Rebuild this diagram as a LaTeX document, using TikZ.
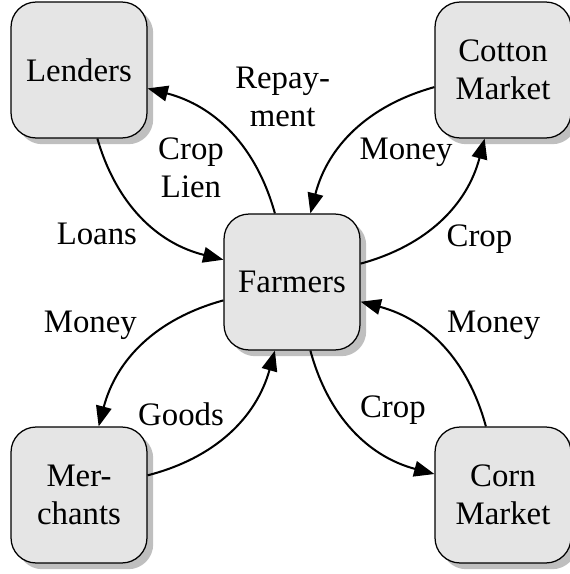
\documentclass[tikz,border=0pt]{standalone}
\usepackage{fontspec}
\setmainfont{Liberation Serif}
\usetikzlibrary{arrows.meta, shadows}

\begin{document}
\begin{tikzpicture}[x=0.32pt, y=-0.32pt, font=\fontsize{10.5}{12}\selectfont,
	party/.style={draw, fill=black!10, rounded corners=8pt, minimum width=43.5pt, minimum height=43.5pt, align=center, inner sep=1pt, drop shadow={shadow xshift=2pt, shadow yshift=-2pt, fill=black!25, opacity=1}},
	flow/.style={line width=0.65pt, -{Triangle[length=6.5pt, width=5pt]}, bend right=30},
	lbl/.style={inner sep=1.5pt, align=center}]
		\useasboundingbox(0, 0) rectangle (570, 574);
		\node[party](lenders)at(79, 70){Lenders};
		\node[party](cotton)at(503, 70){Cotton\\Market};
		\node[party](farmers)at(292, 282){Farmers};
		\node[party](merchants)at(79, 495){Mer-\\chants};
		\node[party](corn)at(503, 495){Corn\\Market};
		\draw[flow](lenders.-75) to node[lbl, below left]{Loans} (farmers.162);
		\draw[flow](farmers.104) to node[lbl, above right]{Repay-\\ment} node[lbl, below left]{Crop\\Lien} (lenders.-15);
		\draw[flow](cotton.194) to node[lbl, below right]{Money} (farmers.75);
		\draw[flow](farmers.15) to node[lbl, below right]{Crop} (cotton.-105);
		\draw[flow](farmers.195) to node[lbl, above left]{Money} (merchants.74);
		\draw[flow](merchants.16) to node[lbl, above left]{Goods} (farmers.-104);
		\draw[flow](farmers.-75) to node[lbl, above right]{Crop} (corn.163);
		\draw[flow](corn.104) to node[lbl, above right]{Money} (farmers.-16);
	\end{tikzpicture}
\end{document}
